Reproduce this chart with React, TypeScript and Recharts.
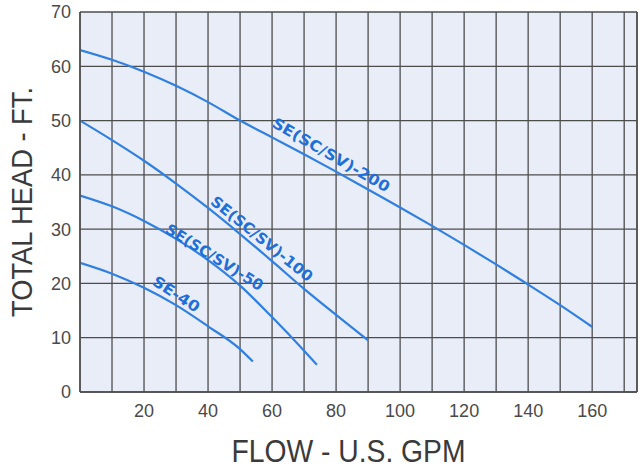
import { CartesianGrid, Label, Line, LineChart, ReferenceDot, ReferenceLine, XAxis, YAxis } from "recharts";

const flow200 = [0, 10, 20, 30, 40, 50, 60, 70, 80, 90, 100, 110, 120, 130, 140, 150, 160];
const head200 = [63, 61.2, 59, 56.4, 53.4, 50, 46.9, 43.8, 40.6, 37.3, 34, 30.6, 27.1, 23.5, 19.8, 16, 12];
const flow100 = [0, 10, 20, 30, 40, 50, 60, 70, 80, 90];
const head100 = [50, 46.4, 42.6, 38.4, 33.9, 29.1, 24.1, 19, 14.2, 9.5];
const flow50 = [0, 10, 20, 30, 40, 50, 60, 70, 74];
const head50 = [36.2, 34.2, 31.5, 28.2, 24.3, 19.6, 13.8, 7.6, 5];
const flow40 = [0, 10, 20, 30, 40, 50, 54];
const head40 = [23.8, 21.8, 19.2, 16, 12.1, 7.9, 5.6];

const curveNames = ["SE(SC/SV)-200", "SE(SC/SV)-100", "SE(SC/SV)-50", "SE-40"];
const labelFlow = [77, 55, 40.5, 28.5];
const labelHead = [42.2, 26.9, 23.4, 16.6];
const labelAngle = [30, 39, 32, 33];
const labelLength = [133, 126, 112, 53];

const xTicks = [0, 10, 20, 30, 40, 50, 60, 70, 80, 90, 100, 110, 120, 130, 140, 150, 160, 170];
const yTicks = [0, 10, 20, 30, 40, 50, 60, 70];

const toRows = (xs: number[], ys: number[]) => xs.map((x, i) => ({ flow: x, head: ys[i] }));
const curves = [
  toRows(flow200, head200),
  toRows(flow100, head100),
  toRows(flow50, head50),
  toRows(flow40, head40),
];

const lineBlue = "#2f80e2";
const textBlue = "#1f6fd9";
const gridGray = "#4d4d4d";
const tickStyle = { fill: "#4a4a4a", fontSize: 18, fontFamily: "Liberation Sans, Arial, sans-serif" };

function CurveLabel({ viewBox, text, angle, length }: any) {
  const cx = viewBox.x + (viewBox.width || 0) / 2;
  const cy = viewBox.y + (viewBox.height || 0) / 2;
  return (
    <text
      x={cx}
      y={cy}
      dy={-4}
      textAnchor="middle"
      transform={`rotate(${angle}, ${cx}, ${cy})`}
      fill={textBlue}
      fontSize={15}
      fontWeight="bold"
      fontFamily="DejaVu Sans, sans-serif"
      textLength={length}
      lengthAdjust="spacingAndGlyphs"
    >
      {text}
    </text>
  );
}

export default function App() {
  return (
    <div style={{ position: "absolute", left: 0, top: 0, background: "#fff" }}>
      <LineChart width={641} height={472} margin={{ top: 12, right: 4, bottom: 50, left: 0 }}>
        <CartesianGrid
          stroke={gridGray}
          strokeWidth={1.3}
          fill="#e9edf8"
          fillOpacity={1}
        />
        <XAxis
          type="number"
          dataKey="flow"
          domain={[0, 174]}
          ticks={xTicks}
          tickFormatter={(v) => (v > 0 && v % 20 === 0 ? String(v) : "")}
          allowDataOverflow
          height={30}
          tickLine={false}
          tickMargin={6}
          stroke={gridGray}
          strokeWidth={1.5}
          tick={tickStyle}
        >
          <Label
            content={({ viewBox }: any) => (
              <text
                x={viewBox.x + viewBox.width / 2 - 10}
                y={viewBox.y + 70}
                textAnchor="middle"
                fill="#3a3a3a"
                fontSize={32}
                fontFamily="Liberation Sans, Arial, sans-serif"
                textLength={234}
                lengthAdjust="spacingAndGlyphs"
              >
                FLOW - U.S. GPM
              </text>
            )}
          />
        </XAxis>
        <YAxis
          type="number"
          domain={[0, 70]}
          ticks={yTicks}
          width={80}
          tickLine={false}
          tickMargin={3}
          stroke={gridGray}
          strokeWidth={1.5}
          tick={tickStyle}
        >
          <Label
            content={({ viewBox }: any) => (
              <text
                x={32}
                y={viewBox.y + viewBox.height / 2}
                transform={`rotate(-90, 32, ${viewBox.y + viewBox.height / 2})`}
                textAnchor="middle"
                fill="#3a3a3a"
                fontSize={30}
                fontFamily="Liberation Sans, Arial, sans-serif"
                textLength={230}
                lengthAdjust="spacingAndGlyphs"
              >
                TOTAL HEAD - FT.
              </text>
            )}
          />
        </YAxis>
        <ReferenceLine x={174} stroke={gridGray} strokeWidth={1.5} />
        {curves.map((rows, i) => (
          <Line
            key={curveNames[i]}
            data={rows}
            dataKey="head"
            type="monotone"
            stroke={lineBlue}
            strokeWidth={2.2}
            dot={false}
            isAnimationActive={false}
          />
        ))}
        {curveNames.map((name, i) => (
          <ReferenceDot
            key={name}
            x={labelFlow[i]}
            y={labelHead[i]}
            r={0}
            stroke="none"
            fill="none"
            label={(p: any) => (
              <CurveLabel viewBox={p.viewBox} text={name} angle={labelAngle[i]} length={labelLength[i]} />
            )}
          />
        ))}
      </LineChart>
    </div>
  );
}
